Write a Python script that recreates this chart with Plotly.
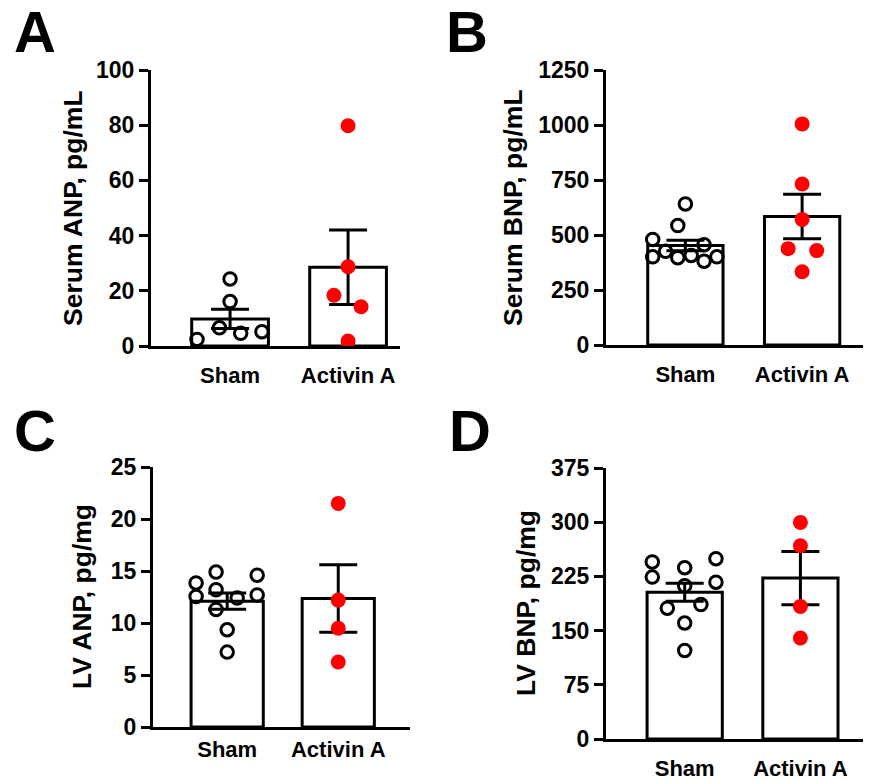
import plotly.graph_objects as go

W, H = 871, 780
PAGE_OFF = 8  # the page body margin shifts the figure by 8 px right and down
FONT = "Liberation Sans, Arial, Helvetica, sans-serif"
groups = ["Sham", "Activin A"]

# ---------------- data ----------------
# Panel A: Serum ANP, pg/mL
a_sham_vals = [2.4, 6.6, 16.1, 24.3, 4.6, 5.2]
a_sham_off = [-0.28, -0.09, 0.0, 0.0, 0.09, 0.27]
a_act_vals = [79.8, 28.7, 18.4, 14.2, 1.8]
a_act_off = [0.0, 0.0, -0.12, 0.11, 0.0]
a_means = [9.8, 28.5]
a_sems = [3.5, 13.5]

# Panel B: Serum BNP, pg/mL
b_sham_vals = [480, 401, 426, 543, 641, 397, 407, 456, 381, 401]
b_sham_off = [-0.28, -0.28, -0.17, -0.065, 0.0, -0.065, 0.05, 0.16, 0.16, 0.27]
b_act_vals = [1005, 732, 571, 438, 429, 333]
b_act_off = [0.0, 0.0, 0.0, -0.12, 0.125, 0.0]
b_means = [452, 584]
b_sems = [24, 101]

# Panel C: LV ANP, pg/mg
c_sham_vals = [14.9, 13.85, 12.55, 13.2, 11.3, 12.4, 9.35, 7.2, 14.6, 12.7]
c_sham_off = [-0.10, -0.28, -0.28, -0.10, -0.10, 0.09, 0.0, 0.0, 0.27, 0.27]
c_act_vals = [21.5, 12.2, 9.5, 6.25]
c_act_off = [0.0, 0.0, 0.0, 0.0]
c_means = [12.1, 12.35]
c_sems = [0.78, 3.25]

# Panel D: LV BNP, pg/mg
d_sham_vals = [245, 224, 237, 212, 181, 186, 160.5, 122.6, 249.5, 217]
d_sham_off = [-0.28, -0.28, 0.0, 0.0, -0.15, 0.14, 0.0, 0.0, 0.27, 0.27]
d_act_vals = [299.7, 267.5, 183.5, 139.7]
d_act_off = [0.0, 0.0, 0.0, 0.0]
d_means = [203, 222.7]
d_sems = [12.5, 36.9]

titles = ["Serum ANP, pg/mL", "Serum BNP, pg/mL", "LV ANP, pg/mg", "LV BNP, pg/mg"]
letters = ["A", "B", "C", "D"]
y_max = [100, 1250, 25, 375]
y_dtick = [20, 250, 5, 75]

panels = [
    (a_sham_vals, a_sham_off, a_act_vals, a_act_off, a_means, a_sems),
    (b_sham_vals, b_sham_off, b_act_vals, b_act_off, b_means, b_sems),
    (c_sham_vals, c_sham_off, c_act_vals, c_act_off, c_means, c_sems),
    (d_sham_vals, d_sham_off, d_act_vals, d_act_off, d_means, d_sems),
]

# ---------------- layout geometry (screen pixels) ----------------
# (left, right, top, bottom) of each plot area
boxes = [(151, 400, 70, 346), (606, 871, 70, 345), (153, 410, 467, 727), (606, 871, 468, 739)]
x_ranges = [(-0.67, 1.44), (-0.68, 1.59), (-0.668, 1.646), (-0.68, 1.61)]
bar_w = [0.65, 0.645, 0.65, 0.65]
label_standoff = [8, 8, 1, 8]
title_pos = [(73, 208), (513, 207), (82, 597), (526, 603)]
letter_pos = [(35, 31), (467, 31), (35, 430), (470, 431)]


def px(x):
    return (x - PAGE_OFF) / W


def py(y):
    return 1 - (y - PAGE_OFF) / H


fig = go.Figure()
layout = dict(
    width=W, height=H, margin=dict(l=0, r=0, t=0, b=0, autoexpand=False),
    paper_bgcolor="white", plot_bgcolor="white", showlegend=False,
    font=dict(family=FONT, color="black"),
)
annotations = []

for i, (sv, so, av, ao, means, sems) in enumerate(panels):
    n = "" if i == 0 else str(i + 1)
    xa, ya = "x" + n, "y" + n
    l, r, t, b = boxes[i]
    fig.add_trace(go.Bar(
        x=[0, 1], y=means, width=bar_w[i], xaxis=xa, yaxis=ya,
        marker=dict(color="white", line=dict(color="black", width=3)),
    ))
    fig.add_trace(go.Scatter(
        x=[0, 1], y=means, xaxis=xa, yaxis=ya, mode="markers",
        marker=dict(size=1, color="rgba(0,0,0,0)"),
        error_y=dict(type="data", array=sems, visible=True, color="black",
                     thickness=3, width=19),
    ))
    fig.add_trace(go.Scatter(
        x=[0 + o for o in so], y=sv, xaxis=xa, yaxis=ya, mode="markers",
        marker=dict(symbol="circle", size=12.5, color="rgba(0,0,0,0)",
                    line=dict(color="black", width=3)),
    ))
    fig.add_trace(go.Scatter(
        x=[1 + o for o in ao], y=av, xaxis=xa, yaxis=ya, mode="markers",
        marker=dict(symbol="circle", size=15, color="#FF0000", line=dict(width=0)),
    ))
    layout["xaxis" + n] = dict(
        domain=[px(l), min(1.0, px(r))], range=list(x_ranges[i]), anchor=ya,
        tickvals=[0, 1], ticktext=groups, ticks="", showline=True,
        linecolor="black", linewidth=3, showgrid=False, zeroline=False,
        ticklabelstandoff=label_standoff[i], automargin=False,
        tickfont=dict(family=FONT, size=22, color="black", weight="bold"),
    )
    layout["yaxis" + n] = dict(
        domain=[py(b), py(t)], range=[0, y_max[i]], anchor=xa,
        dtick=y_dtick[i], tick0=0, ticks="outside", ticklen=9, tickwidth=3,
        tickcolor="black", showline=True, linecolor="black", linewidth=3,
        showgrid=False, zeroline=False, automargin=False,
        tickfont=dict(family=FONT, size=23, color="black", weight="bold"),
    )
    tx, ty = title_pos[i]
    annotations.append(dict(
        text=titles[i], x=px(tx), y=py(ty), xref="paper", yref="paper",
        showarrow=False, textangle=-90, xanchor="center", yanchor="middle",
        font=dict(family=FONT, size=26.5, color="black", weight="bold"),
    ))
    lx, ly = letter_pos[i]
    annotations.append(dict(
        text=letters[i], x=px(lx), y=py(ly), xref="paper", yref="paper",
        showarrow=False, xanchor="center", yanchor="middle",
        font=dict(family=FONT, size=58, color="black", weight="bold"),
    ))

layout["annotations"] = annotations
fig.update_layout(**layout)
fig.write_html("out.html")
